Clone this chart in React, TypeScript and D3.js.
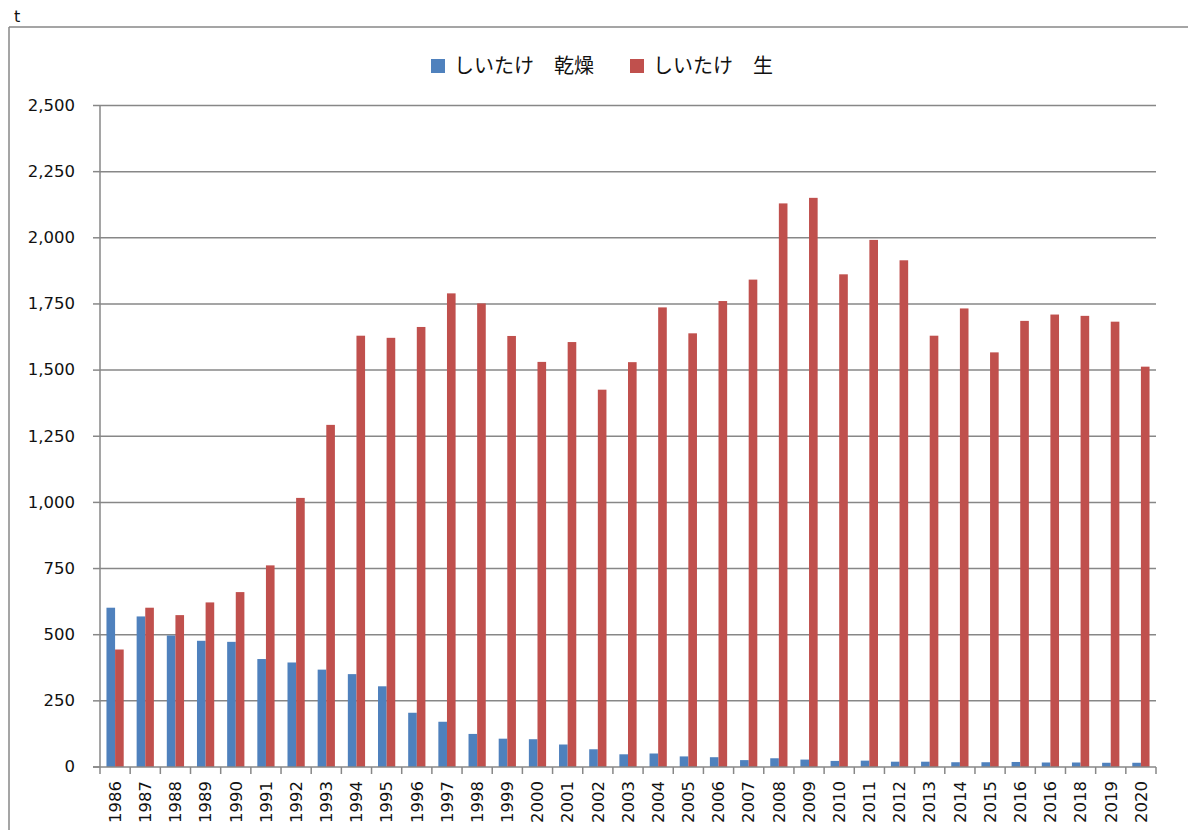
import React from "react";
import * as d3 from "d3";

const years = ["1986","1987","1988","1989","1990","1991","1992","1993","1994","1995","1996","1997","1998","1999","2000","2001","2002","2003","2004","2005","2006","2007","2008","2009","2010","2011","2012","2013","2014","2015","2016","2016","2018","2019","2020"];
const dried = [602,569,497,477,473,408,395,368,351,305,205,171,125,107,105,85,67,48,51,40,37,26,33,28,23,24,20,20,18,18,19,17,17,16,16];
const fresh = [444,602,574,622,661,762,1017,1293,1630,1622,1663,1790,1752,1629,1531,1606,1426,1530,1737,1639,1761,1842,2130,2151,1862,1992,1915,1630,1733,1567,1686,1710,1705,1683,1513];
const seriesNames = ["しいたけ　乾燥", "しいたけ　生"];
const seriesColors = ["#4F81BD", "#C0504D"];
const yTicks = [0,250,500,750,1000,1250,1500,1750,2000,2250,2500];
const unitLabel = "t";

export default function App() {
  const W = 1188, H = 830;
  const left = 100, right = 1156, top = 105.5, bottom = 767;
  const x = d3.scaleBand<number>().domain(d3.range(years.length)).range([left, right]).paddingInner(0).paddingOuter(0);
  const sub = d3.scaleBand<number>().domain([0,1]).range([0, x.bandwidth()]).paddingInner(0).paddingOuter(0.75);
  const y = d3.scaleLinear().domain([0, 2500]).range([bottom, top]);
  const fmt = d3.format(",");
  const grid = "#878787";
  const series = [dried, fresh];
  const textFont = "'DejaVu Sans', Verdana, sans-serif";
  const cjkFont = "'Noto Sans CJK JP', 'DejaVu Sans', sans-serif";

  return (
    <div style={{ position: "fixed", left: 0, top: 0, width: W, height: H, background: "#fff" }}>
      <svg width={W} height={H} style={{ display: "block" }}>
        <rect x={0} y={0} width={W} height={H} fill="#fff" />
        {/* frame */}
        <line x1={9} x2={W} y1={27} y2={27} stroke={grid} strokeWidth={1.5} />
        <line x1={9} x2={9} y1={27} y2={H} stroke={grid} strokeWidth={1.5} />
        <text x={14} y={22} fontFamily={textFont} fontSize={16} fill="#111">{unitLabel}</text>

        {/* gridlines & y ticks */}
        {yTicks.map((t) => (
          <g key={t}>
            {t > 0 && <line x1={left} x2={right} y1={y(t)} y2={y(t)} stroke={grid} strokeWidth={1.5} />}
            <line x1={left - 7} x2={left} y1={y(t)} y2={y(t)} stroke={grid} strokeWidth={1.5} />
            <text x={75} y={y(t)} dy="0.32em" textAnchor="end" fontFamily={textFont} fontSize={16.5} fill="#111">{fmt(t)}</text>
          </g>
        ))}

        {/* bars */}
        {years.map((_, i) => (
          <g key={i}>
            {series.map((s, k) => (
              <rect key={k} x={(x(i) as number) + (sub(k) as number)} y={y(s[i])} width={sub.bandwidth()} height={y(0) - y(s[i])} fill={seriesColors[k]} />
            ))}
          </g>
        ))}

        {/* axes */}
        <line x1={left} x2={left} y1={top} y2={bottom} stroke={grid} strokeWidth={1.5} />
        <line x1={left - 7} x2={right} y1={bottom} y2={bottom} stroke={grid} strokeWidth={1.5} />
        {d3.range(years.length + 1).map((i) => {
          const xx = i < years.length ? (x(i) as number) : right;
          return <line key={i} x1={xx} x2={xx} y1={bottom} y2={bottom + 7} stroke={grid} strokeWidth={1.5} />;
        })}
        {years.map((yr, i) => {
          const cx = (x(i) as number) + x.bandwidth() / 2;
          return (
            <text key={i} transform={`translate(${cx},781) rotate(-90)`} textAnchor="end" dy="0.35em" fontFamily={textFont} fontSize={16.5} fill="#111">{yr}</text>
          );
        })}

        {/* legend */}
        {seriesNames.map((n, k) => {
          const lx = k === 0 ? 431 : 630;
          return (
            <g key={k}>
              <rect x={lx} y={59} width={14} height={14} fill={seriesColors[k]} />
              <text x={lx + 23} y={66} dy="0.35em" fontFamily={cjkFont} fontSize={20} fill="#111">{n}</text>
            </g>
          );
        })}
      </svg>
    </div>
  );
}
